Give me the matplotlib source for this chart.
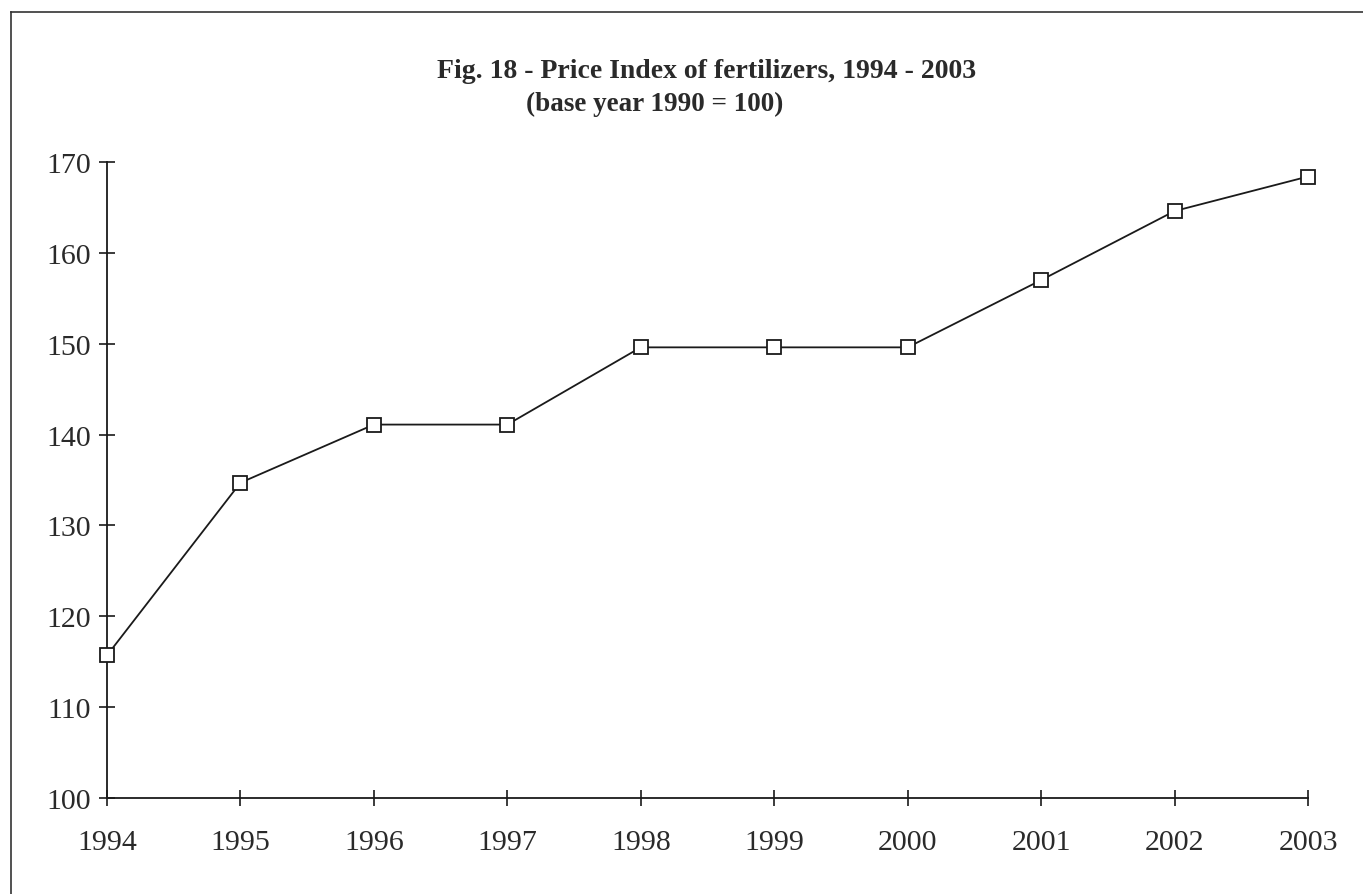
import matplotlib
matplotlib.use("Agg")
import matplotlib.pyplot as plt
from matplotlib.lines import Line2D

years = [1994, 1995, 1996, 1997, 1998, 1999, 2000, 2001, 2002, 2003]
price_index = [115.7, 134.7, 141.1, 141.1, 149.6, 149.6, 149.6, 157.0, 164.6, 168.4]
y_ticks = [100, 110, 120, 130, 140, 150, 160, 170]
title = "Fig. 18 - Price Index of fertilizers, 1994 - 2003"
subtitle = "(base year 1990 = 100)"

plt.rcParams['font.family'] = ['Liberation Serif', 'DejaVu Serif']

fig = plt.figure(figsize=(13.63, 8.95), dpi=100)
ax = fig.add_axes([107/1363, 1-799/895, (1308-107)/1363, (799-163)/895])

ax.plot(years, price_index, color='#1a1a1a', linewidth=1.3, marker='s',
        markersize=9.5, markerfacecolor='white', markeredgecolor='#1a1a1a',
        markeredgewidth=1.3, clip_on=False, zorder=5)

ax.set_xlim(1994, 2003)
ax.set_ylim(100, 170)
ax.set_xticks(years)
ax.set_xticklabels([str(y) for y in years])
ax.set_yticks(y_ticks)
for s in ['top', 'right']:
    ax.spines[s].set_visible(False)
for s in ['left', 'bottom']:
    ax.spines[s].set_linewidth(1.3)
    ax.spines[s].set_color('#1a1a1a')
ax.tick_params(axis='both', direction='inout', length=11, width=1.2,
               colors='#1a1a1a', labelsize=21.5, labelcolor='#2a2a2a')
ax.tick_params(axis='x', pad=17)
ax.tick_params(axis='y', pad=6)

fig.text(707/1363, 1-72/895, title, ha='center', va='center',
         fontsize=20, fontweight='bold', color='#2a2a2a')
fig.text(655/1363, 1-104/895, subtitle, ha='center', va='center',
         fontsize=19.5, fontweight='bold', color='#2a2a2a')

# outer frame (extends beyond the image at right and bottom)
fig.add_artist(Line2D([11/1363, 1.0], [1-13/895, 1-13/895], transform=fig.transFigure,
                      color='#333333', linewidth=1.2))
fig.add_artist(Line2D([11/1363, 11/1363], [0.0, 1-13/895], transform=fig.transFigure,
                      color='#333333', linewidth=1.2))

fig.savefig("out.png", dpi=100)
